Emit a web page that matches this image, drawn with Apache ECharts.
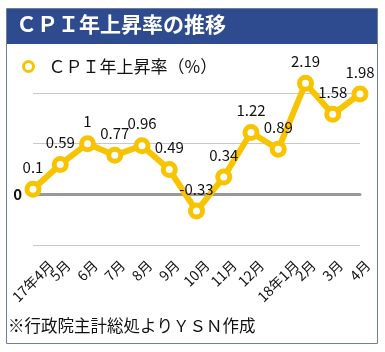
<!DOCTYPE html>
<html>
<head>
<meta charset="utf-8">
<script src="https://cdn.jsdelivr.net/npm/echarts@6/dist/echarts.min.js"></script>
<style>
html,body{margin:0;padding:0;background:#fff;}
#main{width:385px;height:352px;}
</style>
</head>
<body>
<div id="main"></div>
<script>
var months = ['17年4月','5月','6月','7月','8月','9月','10月','11月','12月','18年1月','2月','3月','4月'];
var cpi = [0.1, 0.59, 1, 0.77, 0.96, 0.49, -0.33, 0.34, 1.22, 0.89, 2.19, 1.58, 1.98];
var seriesName = 'ＣＰＩ年上昇率（%）';

var font = '"Noto Sans CJK JP", sans-serif';
var yellow = '#F8C400';
var labelSize = 14;

// 斜めラベルはExcel風に「外接枠の上端を揃えて目盛の中央」に置く
var ctx = document.createElement('canvas').getContext('2d');
ctx.font = labelSize + 'px "Noto Sans CJK JP"';
var labelMargin = 22;
var labelTop = 13;   // 軸からラベル外接枠上端までの距離
var rich = {};
months.forEach(function (m, i) {
	var w = ctx.measureText(m).width;
	var d = labelTop + 0.3535 * (w + labelSize) - labelMargin;
	if (d < 0) d = 0;
	var p = 1.414 * d;
	rich['m' + i] = { fontSize: labelSize, color: '#111', padding: [p, p, 0, 0] };
});

var chart = echarts.init(document.getElementById('main'));
var option = {
	animation: false,
	textStyle: { fontFamily: font },
	graphic: [
		{ type: 'rect', shape: { x: 6.5, y: 8.5, width: 371, height: 335 }, style: { fill: '#fff', stroke: '#717c9c', lineWidth: 1 }, z: -10 },
		{ type: 'rect', shape: { x: 7, y: 9, width: 370, height: 35 }, style: { fill: '#2d4b8e' }, z: -9 },
		{ type: 'text', left: 16, top: 14, style: { text: 'ＣＰＩ年上昇率の推移', fill: '#fff', font: 'bold 21px "Noto Sans CJK JP"' } },
		{ type: 'text', left: 8, top: 317, style: { text: '※行政院主計総処よりＹＳＮ作成', fill: '#111', font: '16.5px "Noto Sans CJK JP"' } }
	],
	legend: {
		left: 17,
		top: 53,
		padding: 5,
		icon: 'circle',
		itemWidth: 10,
		itemHeight: 10,
		itemGap: 5,
		textStyle: { fontSize: 17, color: '#111', fontFamily: font, padding: [0, 0, 0, 10] },
		data: [{ name: seriesName, itemStyle: { color: '#fff', borderColor: yellow, borderWidth: 3 } }]
	},
	grid: { left: 33, right: 25, top: 93, bottom: 107, outerBoundsMode: 'none' },
	xAxis: [
		{
			type: 'category',
			boundaryGap: false,
			data: months,
			axisLine: { show: false, onZero: false },
			axisTick: { show: false },
			axisLabel: {
				rotate: 45, align: 'center', verticalAlign: 'middle',
				fontSize: labelSize, color: '#111', margin: labelMargin, interval: 0,
				formatter: function (v, i) { return '{m' + i + '|' + v + '}'; },
				rich: rich
			}
		},
		{
			type: 'category',
			boundaryGap: false,
			data: months,
			position: 'bottom',
			axisLine: { show: true, onZero: true, lineStyle: { color: '#999', width: 3 } },
			axisTick: { show: false },
			axisLabel: { show: false }
		}
	],
	yAxis: {
		type: 'value',
		min: -1,
		max: 2,
		interval: 1,
		axisLine: { show: false },
		axisTick: { show: false },
		axisLabel: {
			margin: 11,
			fontSize: 15,
			fontWeight: 'bold',
			color: '#111',
			formatter: function (v) { return v === 0 ? '0' : ''; }
		},
		splitLine: { lineStyle: { color: '#c8c8c8', width: 1 } }
	},
	series: [
		{
			name: seriesName,
			type: 'line',
			data: cpi,
			clip: false,
			symbol: 'circle',
			symbolSize: 12,
			lineStyle: { color: yellow, width: 6 },
			itemStyle: { color: '#fff', borderColor: yellow, borderWidth: 5 },
			label: { show: true, position: 'top', distance: 6, fontSize: 15, color: '#111' },
			z: 5
		}
	]
};
chart.setOption(option);
</script>
</body>
</html>
